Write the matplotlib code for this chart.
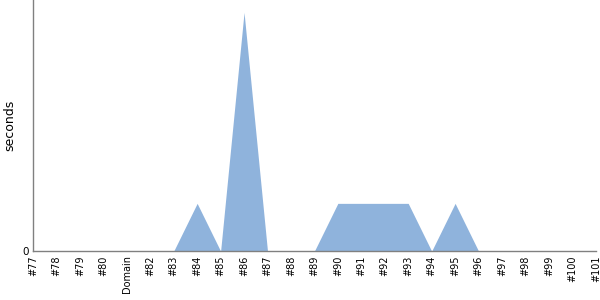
import matplotlib
matplotlib.use('Agg')
import matplotlib.pyplot as plt
import numpy as np

labels = ['#77', '#78', '#79', '#80', 'Domain', '#82', '#83', '#84', '#85', '#86',
          '#87', '#88', '#89', '#90', '#91', '#92', '#93', '#94', '#95', '#96',
          '#97', '#98', '#99', '#100', '#101']
seconds = [0, 0, 0, 0, 0, 0, 0, 1, 0, 5,
           0, 0, 0, 1, 1, 1, 1, 0, 1, 0,
           0, 0, 0, 0, 0]

fig = plt.figure(figsize=(6, 3), dpi=100)
ax = fig.add_axes([0.055, 0.163, 0.938, 0.837])

x = np.arange(len(labels))
ax.fill_between(x, seconds, 0, color='#8fb3dc', linewidth=0)

ax.set_xlim(0, len(labels) - 1)
ax.set_ylim(0, 5.26)
ax.set_xticks(x)
ax.set_xticklabels(labels, rotation=90, fontsize=7)
ax.set_yticks([0])
ax.set_yticklabels(['0'], fontsize=7.5)
ax.tick_params(length=0, pad=3)
ax.set_ylabel('seconds', fontsize=9)

for s in ['top', 'right']:
    ax.spines[s].set_visible(False)
for s in ['left', 'bottom']:
    ax.spines[s].set_color('#808080')
    ax.spines[s].set_linewidth(1)

plt.savefig('out.png', dpi=100)
plt.close()
